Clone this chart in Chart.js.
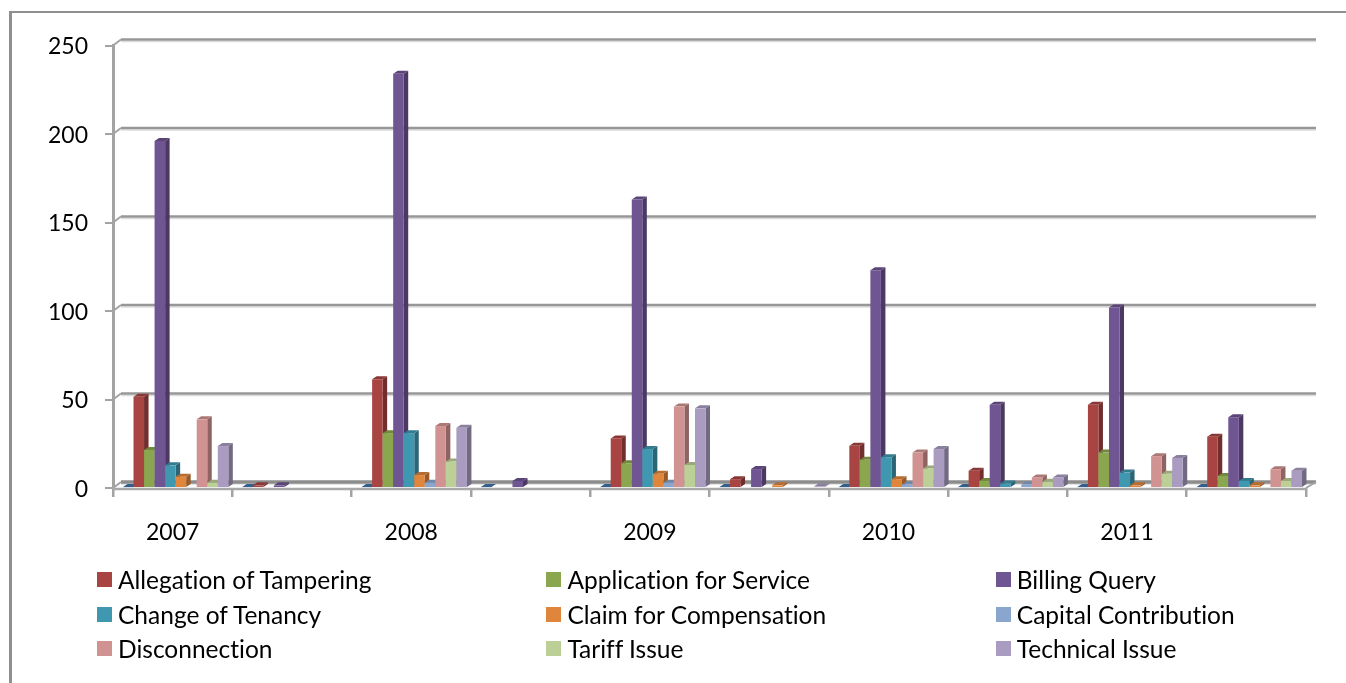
<!DOCTYPE html>
<html>
<head>
<meta charset="utf-8">
<title>Complaints by type</title>
<script src="https://cdn.jsdelivr.net/npm/chart.js@4"></script>
<style>
    body { margin: 0; background: #fff; font-family: Lato, sans-serif; }
    #wrap { position: relative; width: 1346px; height: 683px; overflow: hidden; }
    #frame { position: absolute; left: 9px; top: 11px; width: 1346px; height: 700px;
             border-left: 3px solid #8f8f8f; border-top: 2px solid #8f8f8f; }
    canvas { position: absolute; left: 0; top: 0; }
    #legend { position: absolute; left: 97px; top: 562.5px; display: grid;
              grid-template-columns: 449.4px 449.4px 340px; grid-auto-rows: 34.5px;
              font-size: 24.5px; font-variant-ligatures: none; color: #000; }
    #legend div { display: flex; align-items: center; white-space: nowrap; }
    #legend i { display: block; width: 15px; height: 15px; margin-right: 6px; }
</style>
</head>
<body>
<div id="wrap">
    <div id="frame"></div>
    <canvas id="chart" width="1346" height="683"></canvas>
    <div id="legend"></div>
</div>
<script>
const categories = ['2007', '', '2008', '', '2009', '', '2010', '', '2011', ''];
const yTicks = [0, 50, 100, 150, 200, 250];

// unnamed first series, it has no legend entry in the original
const unnamed = [0.5, 0.5, 0.5, 0.5, 0.5, 0.5, 0.5, 0.5, 0.5, 0.5];
const tampering = [51.5, 1.5, 61.5, 0, 28, 5, 23.8, 9.8, 47, 29];
const application = [21.5, 0, 31, 0, 14, 0, 16, 4, 20, 6.8];
const billing = [196, 1.5, 234, 4, 163, 10.7, 123, 47, 102, 40];
const tenancy = [12.8, 0, 31, 0, 22, 0, 17.4, 2.5, 8.7, 4];
const compensation = [6.4, 0, 7.3, 0, 8, 1.5, 5, 0, 1.5, 1.5];
const capital = [0, 0, 3, 0, 3, 0, 2, 2, 0, 0];
const disconnection = [38.8, 0, 35, 0, 46, 0, 20, 6, 18, 10.6];
const tariff = [3, 0, 15, 0, 13, 0, 11, 3.5, 8, 4];
const technical = [23.7, 0, 34, 0, 45, 1, 22, 6, 17, 9.8];

const seriesNames = ['', 'Allegation of Tampering', 'Application for Service', 'Billing Query',
    'Change of Tenancy', 'Claim for Compensation', 'Capital Contribution',
    'Disconnection', 'Tariff Issue', 'Technical Issue'];
const seriesValues = [unnamed, tampering, application, billing, tenancy, compensation,
    capital, disconnection, tariff, technical];
const seriesColors = ['#3f74ab', '#a84543', '#8aa64e', '#6f5592', '#4097b0', '#df853c',
    '#8aa6ce', '#d19391', '#bccf97', '#a99cc0'];

const AXIS_FONT = { family: 'Lato', size: 23 };
const DEPTH_X = 4.5, DEPTH_Y = 3;     // bar depth
const WALL_X = 8, WALL_Y = 6;         // front axis to back wall
const BAR_SHIFT = 3;

function shade(hex, f) {
    const n = parseInt(hex.slice(1), 16);
    return `rgb(${(n >> 16) * f | 0}, ${((n >> 8) & 255) * f | 0}, ${(n & 255) * f | 0})`;
}

function poly(ctx, pts, color) {
    ctx.fillStyle = color;
    ctx.beginPath();
    pts.forEach((p, i) => i ? ctx.lineTo(p[0], p[1]) : ctx.moveTo(p[0], p[1]));
    ctx.closePath();
    ctx.fill();
}

function line(ctx, x0, y0, x1, y1, color, width) {
    ctx.strokeStyle = color;
    ctx.lineWidth = width;
    ctx.beginPath();
    ctx.moveTo(x0, y0);
    ctx.lineTo(x1, y1);
    ctx.stroke();
}

// back wall gridlines and floor, behind the bars
const wallPlugin = {
    id: 'wall',
    beforeDatasetsDraw(chart) {
        const ctx = chart.ctx, area = chart.chartArea, yScale = chart.scales.y;
        ctx.save();
        yTicks.forEach(v => {
            const y = yScale.getPixelForValue(v);
            line(ctx, area.left + WALL_X, y - WALL_Y + 2, area.right + WALL_X + 2, y - WALL_Y + 2, '#dcdcdc', 1.5);
            line(ctx, area.left + WALL_X, y - WALL_Y, area.right + WALL_X + 2, y - WALL_Y, v === 0 ? '#8c8c8c' : '#979797', v === 0 ? 3.5 : 2.5);
            line(ctx, area.left, y, area.left + WALL_X, y - WALL_Y, '#a3a3a3', 2);
        });
        line(ctx, area.right, area.bottom, area.right + WALL_X + 2, area.bottom - WALL_Y, '#a3a3a3', 2);
        ctx.restore();
    }
};

// the library's own pass would paint the first series last, so it is skipped and
// the bars are painted left to right here, each covering its left neighbour's side
const barsPlugin = {
    id: 'bars3d',
    beforeDatasetDraw() {
        return false;
    },
    afterDatasetsDraw(chart) {
        const ctx = chart.ctx;
        ctx.save();
        ctx.translate(BAR_SHIFT, 0);
        chart.data.labels.forEach((_, c) => {
            chart.data.datasets.forEach((ds, s) => {
                const el = chart.getDatasetMeta(s).data[c];
                if (!ds.data[c]) return;
                const { x, y, base, width } = el.getProps(['x', 'y', 'base', 'width'], true);
                const l = x - width / 2, r = x + width / 2, color = seriesColors[s];
                poly(ctx, [[r, y], [r + DEPTH_X, y - DEPTH_Y], [r + DEPTH_X, base - DEPTH_Y], [r, base]], shade(color, 0.68));
                poly(ctx, [[l, y], [r, y], [r + DEPTH_X, y - DEPTH_Y], [l + DEPTH_X, y - DEPTH_Y]], shade(color, 0.82));
                el.draw(ctx);
            });
        });
        ctx.restore();
        // front edge of the floor sits over the feet of the bars
        const area = chart.chartArea;
        ctx.save();
        line(ctx, area.left - 1, area.bottom + 1, area.right + 1, area.bottom + 1, '#a8a8a8', 2.5);
        ctx.restore();
    }
};

new Chart(document.getElementById('chart'), {
    type: 'bar',
    data: {
        labels: categories,
        datasets: seriesNames.map((name, i) => ({
            label: name,
            data: seriesValues[i],
            backgroundColor: seriesColors[i],
            borderWidth: 0,
            barPercentage: 1,
            categoryPercentage: 0.883
        }))
    },
    options: {
        responsive: false,
        animation: false,
        layout: { padding: { top: 45.5, right: 40 } },
        plugins: { legend: { display: false }, tooltip: { enabled: false } },
        scales: {
            x: {
                afterFit: scale => { scale.height = 195; },
                grid: { drawOnChartArea: false, tickLength: 9, color: '#a3a3a3', lineWidth: 2.5 },
                border: { display: false },
                ticks: { autoSkip: false, maxRotation: 0, color: '#000', font: AXIS_FONT, padding: 22 }
            },
            y: {
                min: 0,
                max: 250,
                afterFit: scale => { scale.width = 113; },
                grid: { drawOnChartArea: false, tickLength: 8, color: '#a3a3a3', lineWidth: 2 },
                border: { color: '#a3a3a3', width: 3 },
                ticks: { stepSize: 50, color: '#000', font: AXIS_FONT, padding: 17, labelOffset: 1.5 }
            }
        }
    },
    plugins: [wallPlugin, barsPlugin]
});

const legend = document.getElementById('legend');
seriesNames.forEach((name, i) => {
    if (!name) return;
    const item = document.createElement('div');
    item.innerHTML = `<i style="background:${seriesColors[i]}"></i><span>${name}</span>`;
    legend.appendChild(item);
});
</script>
</body>
</html>
